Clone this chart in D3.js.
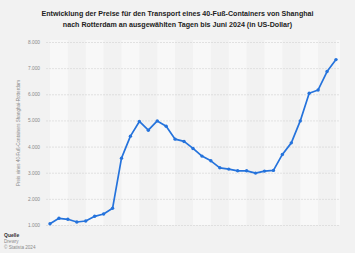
<!DOCTYPE html>
<html>
<head>
<meta charset="utf-8">
<script src="https://cdn.jsdelivr.net/npm/d3@7"></script>
<style>
  body { margin: 0; background: #f2f2f2; }
  svg { display: block; font-family: "Liberation Sans", Arial, sans-serif; }
</style>
</head>
<body>
<div id="chart"></div>
<script>
// Preis 40-Fuß-Container Shanghai -> Rotterdam (US-Dollar), ausgewählte Tage bis Juni 2024
const points = d3.range(1, 34).map(String);
const prices = [
  1050, 1256, 1218, 1115, 1153, 1332, 1420, 1638,
  3558, 4398, 4960, 4627, 4982, 4780, 4284, 4196,
  3928, 3635, 3455, 3188, 3138, 3073, 3073, 2985,
  3062, 3088, 3699, 4142, 4982, 6040, 6166, 6869, 7327
];
const yTicks = [1000, 2000, 3000, 4000, 5000, 6000, 7000, 8000];

const width = 355;
const height = 253;
const margin = { top: 42, right: 19, bottom: 28, left: 50 };

const svg = d3.select("#chart")
  .append("svg")
  .attr("width", width)
  .attr("height", height);

svg.append("rect")
  .attr("width", width)
  .attr("height", height)
  .attr("fill", "#f2f2f2");

const x = d3.scalePoint()
  .domain(points)
  .range([margin.left, 336]);

const y = d3.scaleLinear()
  .domain([1000, 8000])
  .range([height - margin.bottom, margin.top]);

const step = x.step();
const gridLeft = margin.left - 4;
const gridRight = 340;

// alternating background columns, two points wide
svg.append("g")
  .selectAll("rect")
  .data(points.filter((d, i) => i % 4 === 0))
  .enter()
  .append("rect")
  .attr("x", d => x(d))
  .attr("y", margin.top - 2)
  .attr("width", d => Math.max(0, Math.min(step * 2, gridRight - x(d))))
  .attr("height", height - margin.bottom - margin.top + 2)
  .attr("fill", "#f8f8f8");

// grid lines + tick labels
const yAxis = svg.append("g")
  .attr("transform", `translate(${gridLeft},0)`)
  .call(d3.axisLeft(y)
    .tickValues(yTicks)
    .tickSize(-(gridRight - gridLeft))
    .tickPadding(6)
    .tickFormat(d => d3.format(",")(d).replace(",", ".")));

yAxis.select(".domain").remove();
yAxis.selectAll("line")
  .attr("stroke", "#d2d2d2")
  .attr("stroke-width", 0.6)
  .attr("stroke-dasharray", "2,1");
yAxis.selectAll("text")
  .attr("fill", "#8a8a8a")
  .style("font-size", "4.8px");

svg.append("text")
  .attr("transform", "rotate(-90)")
  .attr("x", -133)
  .attr("y", 20)
  .attr("text-anchor", "middle")
  .attr("fill", "#8a8a8a")
  .style("font-size", "4.6px")
  .text("Preis eines 40-Fuß-Containers Shanghai-Rotterdam");

const line = d3.line()
  .x((d, i) => x(points[i]))
  .y(d => y(d));

svg.append("path")
  .datum(prices)
  .attr("fill", "none")
  .attr("stroke", "#2573dc")
  .attr("stroke-width", 1.7)
  .attr("stroke-linejoin", "round")
  .attr("d", line);

svg.selectAll(".dot")
  .data(prices)
  .enter()
  .append("circle")
  .attr("class", "dot")
  .attr("cx", (d, i) => x(points[i]))
  .attr("cy", d => y(d))
  .attr("r", 1.7)
  .attr("fill", "#2573dc");

// title
const title = svg.append("text")
  .attr("text-anchor", "middle")
  .attr("fill", "#222")
  .style("font-size", "7.1px")
  .style("font-weight", "bold");

title.append("tspan")
  .attr("x", width / 2)
  .attr("y", 16)
  .text("Entwicklung der Preise für den Transport eines 40-Fuß-Containers von Shanghai");

title.append("tspan")
  .attr("x", width / 2)
  .attr("y", 27)
  .text("nach Rotterdam an ausgewählten Tagen bis Juni 2024 (in US-Dollar)");

// source
svg.append("text")
  .attr("x", 4)
  .attr("y", 237)
  .attr("fill", "#333")
  .style("font-size", "5px")
  .style("font-weight", "bold")
  .text("Quelle");

svg.append("text")
  .attr("x", 4)
  .attr("y", 243)
  .attr("fill", "#8a8a8a")
  .style("font-size", "4.6px")
  .text("Drewry");

svg.append("text")
  .attr("x", 4)
  .attr("y", 249)
  .attr("fill", "#8a8a8a")
  .style("font-size", "4.6px")
  .text("© Statista 2024");
</script>
</body>
</html>
